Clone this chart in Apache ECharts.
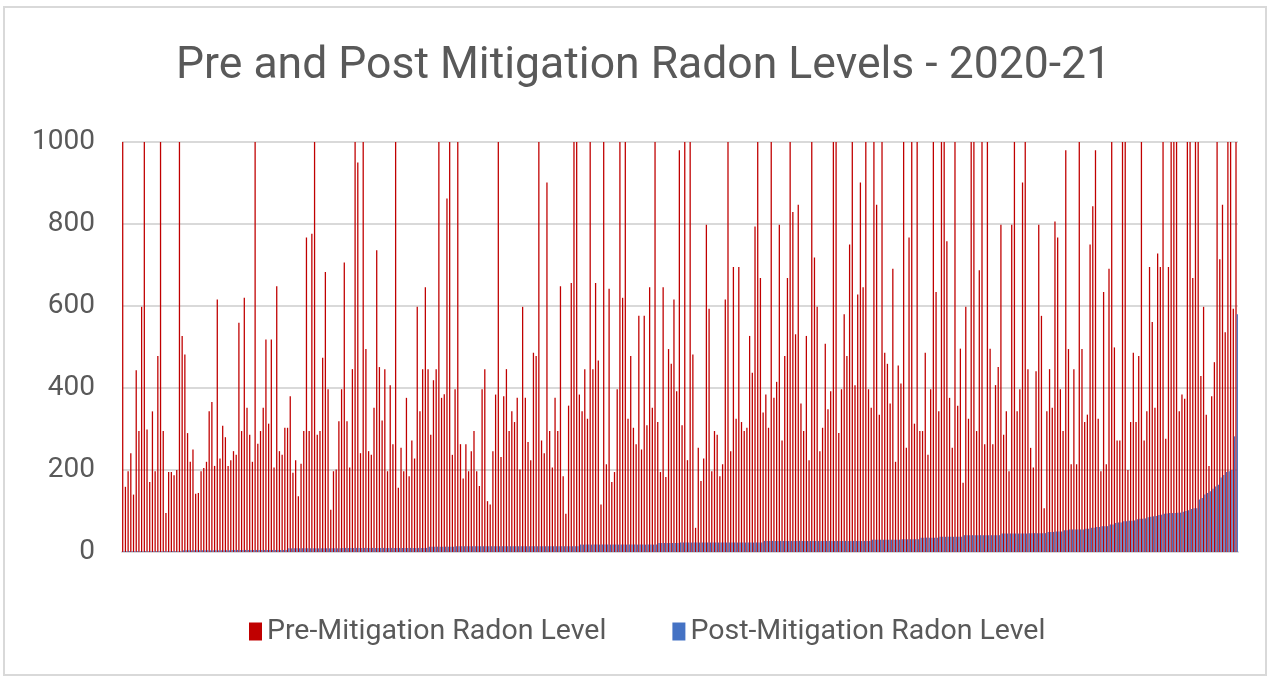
<!DOCTYPE html>
<html>
<head>
<meta charset="utf-8">
<script src="https://cdn.jsdelivr.net/npm/echarts@6/dist/echarts.min.js"></script>
<style>
html,body{margin:0;padding:0;background:#fff;}
#chart{width:1271px;height:679px;}
</style>
</head>
<body>
<div id="chart"></div>
<script>
const title = "Pre and Post Mitigation Radon Levels - 2020-21";
const seriesNames = ["Pre-Mitigation Radon Level", "Post-Mitigation Radon Level"];
const yTicks = [0, 200, 400, 600, 800, 1000];

// Pre-mitigation values (clipped at 1000 in the picture), read left to right
const pre1 = [1000,159,197,241,140,443,295,598,1000,299,171,343,197,478,1000,295,95,195,195,187,200,1000,527,482,290,220,250,142,144,197,205,220,343,366,210,616,228,308,280,210];
const pre2 = [224,246,237,559,295,620,352,286,220,1000,264,295,352,518,313,518,206,648,246,237,303,303,380,193,224,136,215,295,767,295,776,1000,286,295,474,683,397,103,197,201,319];
const pre3 = [397,706,319,206,446,1000,950,241,1000,495,246,237,352,736,451,321,446,197,407,263,1000,157,254,197,376,185,272,228,598,343,446,646,446,286,419,446,1000,376,385,862,1000,237];
const pre4 = [397,1000,263,179,263,197,246,295,197,161,397,446,124,116,246,384,1000,232,380,446,295,343,317,376,201,598,376,268,224,486,478,1000,272,241,901,295,206,376,295,648,185];
const pre5 = [93,357,656,1000,1000,384,343,446,325,1000,446,656,467,116,1000,214,642,171,195,397,1000,620,1000,325,478,303,263,576,250,576,309,646,352,1000,317,195,646,183,495,459,616,392];
const pre6 = [980,309,1000,224,1000,482,59,254,173,228,798,593,197,295,286,185,214,616,1000,246,695,325,695,317,295,303,527,437,794,1000,668,340,384,303,1000,376,415,798,272,478,668,1000];
const pre7 = [829,531,847,362,295,527,224,1000,718,598,246,303,508,348,392,1000,1000,290,397,580,478,750,1000,407,628,901,646,1000,397,352,1000,847,335,1000,486,459,362,691,220,455];
const pre8 = [411,1000,254,767,1000,313,1000,295,295,486,237,397,1000,634,343,1000,1000,758,376,254,1000,357,496,169,598,325,1000,1000,295,687,1000,263,1000,496,263,407,451,798,286,343,197,798];
const pre9 = [1000,343,397,901,1000,446,254,206,441,798,576,107,343,446,352,806,767,397,295,980,495,214,446,214,1000,495,317,335,750,843,980,325,197,634,214,691,1000,499,272,272,1000,1000];
const pre10 = [200,317,486,317,478,1000,272,343,695,561,352,728,695,1000,276,695,1000,1000,1000,343,384,374,1000,1000,668,1000,1000,429,598,335,210,380,463,1000,714,847,536,1000,1000,593,1000];

// Post-mitigation values (sorted ascending in the picture)
const post1 = [2,2,2,2,2,2,2,2,2,2,2,2,2,2,2,2,2,2,2,2,2,2,4,4,4,4,4,4,4,4,4,4,4,4,4,4,4,4,4,4];
const post2 = [5,5,5,5,5,5,5,5,5,5,5,5,5,5,5,5,5,5,5,5,5,9,9,9,9,9,9,9,9,9,9,9,9,9,9,9,9,9,9,9,9];
const post3 = [10,10,10,10,10,10,10,10,10,10,10,10,10,10,10,10,10,10,10,10,10,10,10,10,10,10,10,10,10,10,10,10,13,13,13,13,13,13,13,13,13,13];
const post4 = [14,14,14,14,14,14,14,14,14,14,14,14,14,14,14,14,14,14,14,14,14,14,14,14,14,14,14,14,14,14,14,14,14,14,14,14,14,14,14,14,14];
const post5 = [14,14,14,14,14,18,18,18,18,18,18,18,18,18,18,18,18,18,18,18,18,18,18,18,18,18,18,18,18,18,18,18,18,18,22,22,22,22,22,22,22,22];
const post6 = [23,23,23,23,23,23,23,23,23,23,23,23,23,23,23,23,23,23,23,23,23,23,23,23,23,23,23,23,23,23,23,27,27,27,27,27,27,27,27,27,27,27];
const post7 = [27,27,27,27,27,27,27,27,27,27,27,27,27,27,27,27,27,27,27,27,27,27,27,27,27,27,27,27,27,30,30,30,30,30,30,30,30,30,30,30];
const post8 = [31,31,31,31,31,31,31,35,35,35,35,35,35,35,37,37,37,37,37,37,37,37,37,41,41,41,41,41,41,41,41,41,41,41,41,41,41,45,45,45,45,45];
const post9 = [45,45,45,45,45,46,46,46,46,46,46,46,49,49,49,50,50,50,53,53,55,55,55,55,55,55,57,57,59,59,61,61,63,63,63,67,67,71,72,72,75,75];
const post10 = [76,76,77,80,81,81,82,85,86,87,88,90,91,93,94,95,95,95,96,96,98,100,102,105,107,107,128,132,140,144,148,154,160,164,182,188,195,197,200,282,580];

const preValues = [].concat(pre1, pre2, pre3, pre4, pre5, pre6, pre7, pre8, pre9, pre10);
const postValues = [].concat(post1, post2, post3, post4, post5, post6, post7, post8, post9, post10);
const categories = preValues.map((v, i) => String(i + 1));

const FONT = "Roboto";
const chart = echarts.init(document.getElementById('chart'), null, {renderer: 'canvas'});
chart.setOption({
  animation: false,
  backgroundColor: '#ffffff',
  graphic: [{
    type: 'rect',
    shape: {x: 4, y: 7, width: 1262, height: 668},
    style: {fill: 'none', stroke: '#d9d9d9', lineWidth: 2},
    silent: true
  }],
  title: {
    text: title,
    left: 176,
    top: 44,
    padding: 0,
    textStyle: {fontFamily: FONT, fontSize: 44.5, fontWeight: 'normal', color: '#595959'}
  },
  legend: {
    left: 249,
    top: 617,
    padding: 0,
    itemWidth: 13,
    itemHeight: 18,
    itemGap: 66,
    icon: 'rect',
    textStyle: {fontFamily: FONT, fontSize: 28.5, color: '#595959', padding: [0, 0, 0, 0]},
    data: seriesNames
  },
  grid: {left: 122, right: 33, top: 142, bottom: 127, containLabel: false},
  xAxis: {
    type: 'category',
    data: categories,
    axisLine: {show: true, lineStyle: {color: '#d9d9d9', width: 2}},
    axisTick: {show: false},
    axisLabel: {show: false},
    splitLine: {show: false}
  },
  yAxis: {
    type: 'value',
    min: yTicks[0],
    max: yTicks[yTicks.length - 1],
    interval: 200,
    axisLine: {show: false},
    axisTick: {show: false},
    axisLabel: {fontFamily: FONT, fontSize: 28, color: '#595959', margin: 27, formatter: (v) => String(v)},
    splitLine: {lineStyle: {color: '#d9d9d9', width: 2}}
  },
  series: [
    {
      name: seriesNames[0],
      type: 'bar',
      data: preValues,
      itemStyle: {color: '#c00000'},
      barGap: '0%',
      barCategoryGap: '5%',
      clip: true
    },
    {
      name: seriesNames[1],
      type: 'bar',
      data: postValues,
      itemStyle: {color: '#4472c4'},
      barGap: '0%',
      barCategoryGap: '5%',
      clip: true
    }
  ]
});
</script>
</body>
</html>
